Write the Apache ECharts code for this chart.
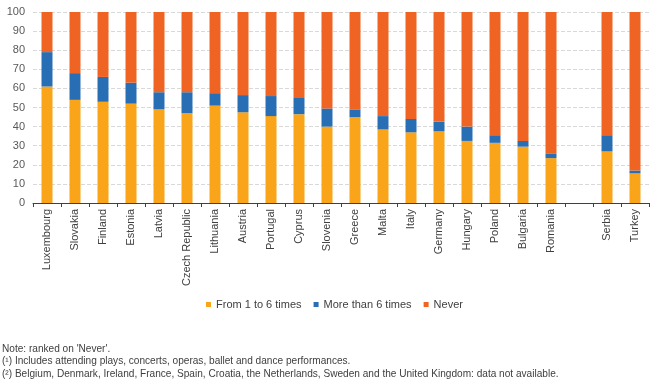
<!DOCTYPE html>
<html>
<head>
<meta charset="utf-8">
<script src="https://cdn.jsdelivr.net/npm/echarts@6/dist/echarts.min.js"></script>
<style>
html,body{margin:0;padding:0;background:#fff;}
#chart{width:661px;height:386px;}
</style>
</head>
<body>
<div id="chart"></div>
<script>
const categories = ["Luxembourg","Slovakia","Finland","Estonia","Latvia","Czech Republic","Lithuania","Austria","Portugal","Cyprus","Slovenia","Greece","Malta","Italy","Germany","Hungary","Poland","Bulgaria","Romania","","Serbia","Turkey"];
const from1to6 = [61,54,53,52,49,47,51,47.5,45.5,46.5,40,45,38.5,37,37.5,32.5,31.5,29.5,23.5,null,27,15.5];
const moreThan6 = [18,14,13,11,9,11,6.5,9,10.5,8.5,9.5,4,7,7,5,7.5,4,3,2.5,null,8.5,1.5];
const never = [21,32,34,37,42,42,42.5,43.5,44,45,50.5,51,54.5,56,57.5,60,64.5,67.5,74,null,64.5,83];
const yTicks = [0,10,20,30,40,50,60,70,80,90,100];
const seriesNames = ["From 1 to 6 times","More than 6 times","Never"];
const notes = [
  "Note: ranked on 'Never'.",
  "(\u00b9) Includes attending plays, concerts, operas, ballet and dance performances.",
  "(\u00b2) Belgium, Denmark, Ireland, France, Spain, Croatia, the Netherlands, Sweden and the United Kingdom: data not available."
];

const chart = echarts.init(document.getElementById('chart'));
const font = 'Liberation Sans, Arial, sans-serif';
const colors = ['#FAA519','#286EB4','#F06423'];
const mk = (name, data, i) => ({
  name, type:'bar', stack:'s', data, barWidth:11,
  itemStyle:{color:colors[i]}
});
chart.setOption({
  animation:false,
  textStyle:{fontFamily:font},
  grid:{left:33,right:12,top:12,height:191,containLabel:false},
  legend:{
    data:seriesNames, top:294, left:201, icon:'rect',
    itemWidth:5, itemHeight:5, itemGap:12,
    textStyle:{fontSize:11,color:'#404040',fontFamily:font}
  },
  xAxis:{
    type:'category', data:categories,
    axisLine:{lineStyle:{color:'#404040'}},
    axisTick:{show:true,length:4,lineStyle:{color:'#404040'}},
    axisLabel:{rotate:90,fontSize:11,color:'#404040',interval:0,margin:6,fontFamily:font}
  },
  yAxis:{
    type:'value', min:0, max:100, interval:10,
    axisLine:{show:false}, axisTick:{show:false},
    axisLabel:{fontSize:11,color:'#595959',margin:8,fontFamily:font},
    splitLine:{lineStyle:{color:'#d9d9d9',type:'dashed'}}
  },
  graphic: notes.map((t,i)=>({
    type:'text', left:2, top:344+i*12.5,
    style:{text:t,fontSize:10.1,fill:'#404040',fontFamily:font}
  })),
  series:[mk(seriesNames[0],from1to6,0),mk(seriesNames[1],moreThan6,1),mk(seriesNames[2],never,2)]
});
</script>
</body>
</html>
